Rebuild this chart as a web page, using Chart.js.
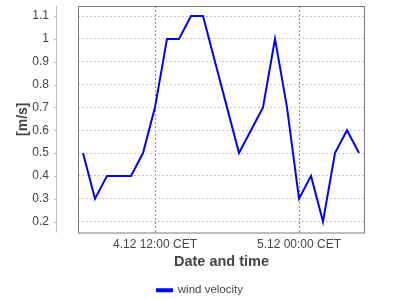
<!DOCTYPE html>
<html>
<head>
<meta charset="utf-8">
<script src="https://cdn.jsdelivr.net/npm/chart.js@4/dist/chart.umd.min.js"></script>
<style>
  html, body { margin: 0; padding: 0; background: #fff; }
  #chart { display: block; }
</style>
</head>
<body>
<canvas id="chart" width="400" height="300"></canvas>
<script>
// hours counted from 4.12 00:00 CET
const hours = [6, 7, 8, 9, 10, 11, 12, 13, 14, 15, 16, 17, 18, 19, 20, 21, 22, 23, 24, 25, 26, 27, 28, 29];
const velocity = [0.5, 0.3, 0.4, 0.4, 0.4, 0.5, 0.7, 1.0, 1.0, 1.1, 1.1, 0.9, 0.7, 0.5, 0.6, 0.7, 1.0, 0.7, 0.3, 0.4, 0.2, 0.5, 0.6, 0.5];
const xTicks = [12, 24];
const xTickLabels = ["4.12 12:00 CET", "5.12 00:00 CET"];
const yTicks = [0.2, 0.3, 0.4, 0.5, 0.6, 0.7, 0.8, 0.9, 1.0, 1.1];
const yTickLabels = ["0.2", "0.3", "0.4", "0.5", "0.6", "0.7", "0.8", "0.9", "1", "1.1"];

const textColor = "#444";
const fontFamily = "'Liberation Sans', Arial, sans-serif";

// separate value axis line left of the plot + plot frame
const frame = {
  id: "frame",
  afterLayout(chart) {
    // center legend on the whole canvas and push it a bit lower
    const l = chart.legend;
    l.left = 0;
    l.right = chart.width;
    l.top += 8;
    l.bottom += 8;
  },
  afterDraw(chart) {
    const { ctx, chartArea: a, scales } = chart;
    const y = scales.y;
    ctx.save();
    ctx.strokeStyle = "#bbb";
    ctx.lineWidth = 1;
    ctx.beginPath();
    ctx.moveTo(56.5, a.top);
    ctx.lineTo(56.5, a.bottom);
    yTicks.forEach(v => {
      const py = Math.round(y.getPixelForValue(v)) + 0.5;
      ctx.moveTo(54, py);
      ctx.lineTo(56.5, py);
    });
    ctx.stroke();
    ctx.strokeStyle = "#7a7a7a";
    ctx.strokeRect(a.left + 0.5, a.top + 0.5, a.right - a.left - 1, a.bottom - a.top);
    ctx.restore();
  }
};

new Chart(document.getElementById("chart"), {
  type: "line",
  data: {
    datasets: [{
      label: "wind velocity",
      data: hours.map((h, i) => ({ x: h, y: velocity[i] })),
      borderColor: "#0000ff",
      backgroundColor: "#0000ff",
      borderWidth: 2,
      pointRadius: 0,
      tension: 0
    }]
  },
  options: {
    responsive: false,
    animation: false,
    layout: { padding: { top: 6, right: 35, left: 0, bottom: 2 } },
    plugins: {
      tooltip: { enabled: false },
      legend: {
        position: "bottom",
        labels: {
          color: textColor,
          boxWidth: 15,
          boxHeight: 2,
          padding: 2,
          font: { family: fontFamily, size: 11.5 }
        }
      }
    },
    scales: {
      x: {
        type: "linear",
        min: 5.583,
        max: 29.5,
        afterBuildTicks: s => { s.ticks = xTicks.map(v => ({ value: v })); },
        afterFit: s => { s.height = 42; },
        ticks: {
          color: textColor,
          padding: 5,
          maxRotation: 0,
          font: { family: fontFamily, size: 12 },
          callback: v => xTickLabels[xTicks.indexOf(v)]
        },
        grid: { color: "#888", tickLength: 0 },
        border: { display: false, dash: [2, 2] },
        title: {
          display: true,
          text: "Date and time",
          color: textColor,
          padding: { top: 6, bottom: 4 },
          font: { family: fontFamily, size: 14.5, weight: "bold" }
        }
      },
      y: {
        min: 0.152,
        max: 1.144,
        afterBuildTicks: s => { s.ticks = yTicks.map(v => ({ value: v })); },
        afterFit: s => { s.width = 78; s.paddingTop = 0; s.paddingBottom = 0; },
        ticks: {
          color: textColor,
          padding: 29,
          font: { family: fontFamily, size: 12 },
          callback: v => yTickLabels[yTicks.indexOf(v)]
        },
        grid: { color: "#c4c4c4", tickLength: 0 },
        border: { display: false, dash: [2, 2] },
        title: {
          display: true,
          text: "[m/s]",
          color: textColor,
          padding: { top: 15, bottom: 0 },
          font: { family: fontFamily, size: 14, weight: "bold" }
        }
      }
    }
  },
  plugins: [frame]
});
</script>
</body>
</html>
